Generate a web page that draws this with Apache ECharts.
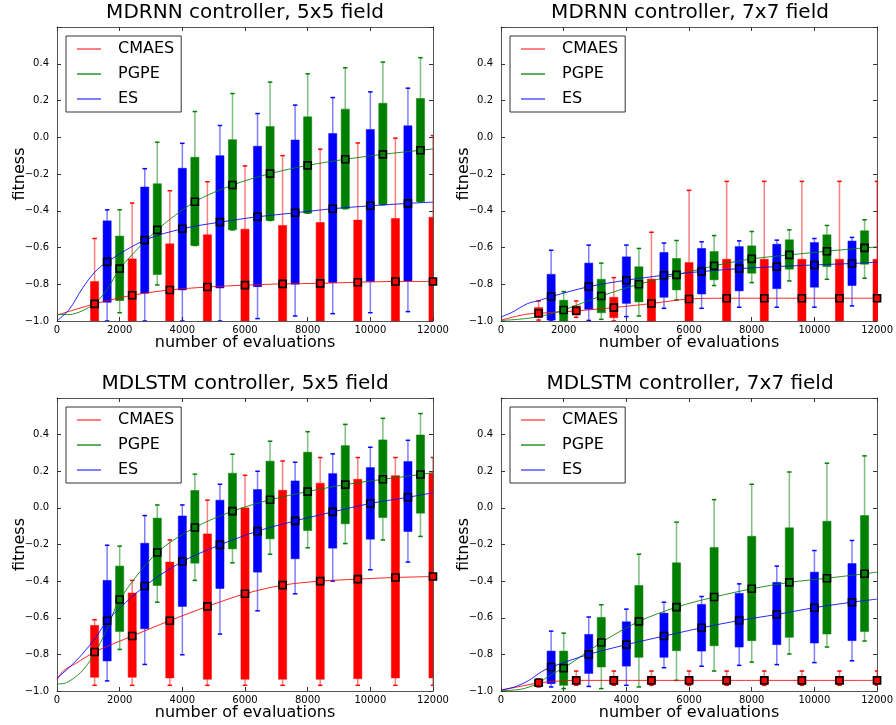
<!DOCTYPE html>
<html>
<head>
<meta charset="utf-8">
<script src="https://cdn.jsdelivr.net/npm/echarts@6/dist/echarts.min.js"></script>
<style>html,body{margin:0;padding:0;background:#fff}#c{width:896px;height:725px}</style>
</head>
<body>
<div id="c"></div>
<script>
// ---------- DATA ----------
const titles = ['MDRNN controller, 5x5 field', 'MDRNN controller, 7x7 field', 'MDLSTM controller, 5x5 field', 'MDLSTM controller, 7x7 field'];
const xTicks = [0, 2000, 4000, 6000, 8000, 10000, 12000];
const yTicks = [-1.0, -0.8, -0.6, -0.4, -0.2, 0.0, 0.2, 0.4];
const methods = ['CMAES', 'PGPE', 'ES'];
const xCMAES = [1200, 2400, 3600, 4800, 6000, 7200, 8400, 9600, 10800, 12000];
const xES = [1600, 2800, 4000, 5200, 6400, 7600, 8800, 10000, 11200];
const xPGPE = [2000, 3200, 4400, 5600, 6800, 8000, 9200, 10400, 11600];

// box stats: [min, q1, median, q3, max]
// Panel 1: MDRNN 5x5
const p1CMAES = [[-1,-1,-0.907,-0.785,-0.551],[-1,-1,-0.86,-0.662,-0.358],[-1,-1,-0.831,-0.58,-0.291],[-1,-1,-0.815,-0.531,-0.242],[-1,-1,-0.805,-0.5,-0.156],[-1,-1,-0.798,-0.48,-0.1],[-1,-1,-0.795,-0.464,-0.065],[-1,-1,-0.789,-0.451,-0.031],[-1,-1,-0.785,-0.442,-0.005],[-1,-1,-0.785,-0.435,0.009]];
const p1ES = [[-1,-0.898,-0.678,-0.455,-0.395],[-1,-0.849,-0.56,-0.271,-0.171],[-1,-0.831,-0.498,-0.169,-0.033],[-1,-0.82,-0.462,-0.1,0.064],[-0.987,-0.813,-0.433,-0.049,0.129],[-0.973,-0.8,-0.411,-0.015,0.175],[-0.96,-0.791,-0.389,0.02,0.216],[-0.955,-0.785,-0.373,0.042,0.247],[-0.949,-0.782,-0.36,0.062,0.267]];
const p1PGPE = [[-0.955,-0.889,-0.715,-0.538,-0.395],[-0.804,-0.747,-0.504,-0.253,-0.027],[-0.589,-0.589,-0.351,-0.109,0.14],[-0.504,-0.504,-0.26,-0.013,0.238],[-0.453,-0.453,-0.198,0.058,0.3],[-0.413,-0.413,-0.153,0.111,0.345],[-0.389,-0.389,-0.12,0.153,0.378],[-0.367,-0.367,-0.093,0.185,0.409],[-0.351,-0.351,-0.071,0.211,0.433]];
const p1CMAESHead = [[0,-0.968]], p1CMAESTail = [];
const p1PGPEHead = [[0,-0.965],[400,-0.965],[800,-0.945],[1200,-0.905],[1600,-0.83]], p1PGPETail = [[12000,-0.064]];
const p1ESHead = [[0,-1.0],[400,-0.935],[800,-0.825],[1200,-0.735]], p1ESTail = [[12000,-0.353]];

// Panel 2: MDRNN 7x7
const p2CMAES = [[-0.995,-0.98,-0.958,-0.927,-0.891],[-0.98,-0.962,-0.945,-0.918,-0.891],[-1,-0.982,-0.927,-0.871,-0.764],[-1,-1,-0.905,-0.772,-0.517],[-1,-1,-0.88,-0.682,-0.289],[-1,-1,-0.876,-0.664,-0.24],[-1,-1,-0.876,-0.664,-0.24],[-1,-1,-0.876,-0.664,-0.24],[-1,-1,-0.876,-0.664,-0.24],[-1,-1,-0.876,-0.664,-0.24]];
const p2ES = [[-1,-0.995,-0.867,-0.746,-0.615],[-0.997,-0.936,-0.813,-0.685,-0.587],[-0.976,-0.904,-0.778,-0.651,-0.587],[-0.931,-0.871,-0.751,-0.627,-0.576],[-0.931,-0.853,-0.731,-0.605,-0.569],[-0.925,-0.836,-0.715,-0.595,-0.564],[-0.925,-0.824,-0.704,-0.582,-0.56],[-0.925,-0.816,-0.695,-0.573,-0.551],[-0.918,-0.807,-0.687,-0.565,-0.545]];
const p2PGPE = [[-1,-1,-0.94,-0.887,-0.84],[-0.991,-0.955,-0.864,-0.773,-0.685],[-0.973,-0.896,-0.8,-0.705,-0.605],[-0.885,-0.831,-0.749,-0.66,-0.562],[-0.807,-0.776,-0.7,-0.622,-0.535],[-0.791,-0.74,-0.662,-0.591,-0.513],[-0.782,-0.718,-0.64,-0.558,-0.504],[-0.773,-0.704,-0.62,-0.531,-0.48],[-0.767,-0.691,-0.602,-0.509,-0.449]];
const p2CMAESHead = [[0,-0.995],[800,-0.963]], p2CMAESTail = [];
const p2PGPEHead = [[0,-0.997],[600,-0.99],[1200,-0.977],[1600,-0.96]], p2PGPETail = [[12000,-0.597]];
const p2ESHead = [[0,-0.978],[350,-0.953],[850,-0.905],[1250,-0.887]], p2ESTail = [[12000,-0.68]];

// Panel 3: MDLSTM 5x5
const p3CMAES = [[-0.969,-0.925,-0.787,-0.642,-0.611],[-0.969,-0.925,-0.7,-0.465,-0.396],[-0.969,-0.929,-0.616,-0.296,-0.175],[-0.969,-0.936,-0.538,-0.142,0.042],[-0.969,-0.936,-0.469,0.0,0.178],[-0.969,-0.936,-0.422,0.096,0.256],[-0.969,-0.936,-0.4,0.135,0.275],[-0.969,-0.933,-0.389,0.156,0.275],[-0.969,-0.929,-0.38,0.176,0.275],[-0.969,-0.929,-0.375,0.189,0.275]];
const p3ES = [[-0.945,-0.836,-0.616,-0.396,-0.204],[-0.855,-0.66,-0.427,-0.193,-0.042],[-0.802,-0.538,-0.293,-0.044,0.016],[-0.689,-0.44,-0.202,0.042,0.129],[-0.562,-0.351,-0.127,0.1,0.2],[-0.469,-0.278,-0.071,0.147,0.249],[-0.4,-0.22,-0.022,0.187,0.295],[-0.338,-0.171,0.024,0.22,0.331],[-0.296,-0.129,0.058,0.253,0.369]];
const p3PGPE = [[-0.773,-0.675,-0.5,-0.318,-0.209],[-0.515,-0.424,-0.244,-0.056,0.016],[-0.396,-0.302,-0.107,0.095,0.184],[-0.3,-0.224,-0.018,0.189,0.293],[-0.253,-0.169,0.044,0.255,0.364],[-0.218,-0.124,0.089,0.304,0.416],[-0.195,-0.087,0.127,0.34,0.456],[-0.175,-0.053,0.156,0.371,0.489],[-0.156,-0.029,0.182,0.398,0.515]];
const p3CMAESHead = [[0,-0.94],[200,-0.89],[600,-0.85]], p3CMAESTail = [];
const p3PGPEHead = [[0,-0.962],[300,-0.955],[750,-0.9],[1150,-0.81],[1600,-0.66]], p3PGPETail = [[12000,0.193]];
const p3ESHead = [[0,-0.93],[400,-0.87],[800,-0.8],[1250,-0.705]], p3ESTail = [[12000,0.082]];

// Panel 4: MDLSTM 7x7
const p4CMAES = [[-0.978,-0.97,-0.955,-0.94,-0.933],[-0.969,-0.962,-0.942,-0.922,-0.891],[-0.969,-0.962,-0.942,-0.922,-0.891],[-0.969,-0.962,-0.942,-0.922,-0.891],[-0.969,-0.962,-0.942,-0.922,-0.891],[-0.969,-0.962,-0.942,-0.922,-0.891],[-0.969,-0.962,-0.942,-0.922,-0.891],[-0.969,-0.962,-0.942,-0.922,-0.891],[-0.969,-0.962,-0.942,-0.922,-0.891],[-0.969,-0.962,-0.942,-0.922,-0.891]];
const p4ES = [[-0.978,-0.96,-0.869,-0.782,-0.673],[-0.975,-0.904,-0.8,-0.691,-0.596],[-0.969,-0.864,-0.747,-0.622,-0.553],[-0.873,-0.816,-0.7,-0.575,-0.515],[-0.865,-0.782,-0.655,-0.527,-0.484],[-0.86,-0.76,-0.615,-0.467,-0.415],[-0.856,-0.747,-0.582,-0.407,-0.318],[-0.845,-0.738,-0.545,-0.351,-0.233],[-0.835,-0.725,-0.515,-0.304,-0.178]];
const p4PGPE = [[-0.987,-0.969,-0.875,-0.782,-0.684],[-0.987,-0.869,-0.735,-0.598,-0.529],[-0.978,-0.816,-0.62,-0.424,-0.253],[-0.942,-0.78,-0.542,-0.3,-0.078],[-0.891,-0.753,-0.487,-0.216,0.045],[-0.842,-0.725,-0.442,-0.155,0.129],[-0.798,-0.707,-0.407,-0.109,0.196],[-0.76,-0.689,-0.384,-0.073,0.244],[-0.727,-0.675,-0.36,-0.042,0.284]];
const p4CMAESHead = [[0,-0.995],[850,-0.967]], p4CMAESTail = [];
const p4PGPEHead = [[0,-0.998],[650,-0.99],[1180,-0.958],[1600,-0.91]], p4PGPETail = [[12000,-0.351]];
const p4ESHead = [[0,-0.995],[450,-0.977],[870,-0.944],[1290,-0.895]], p4ESTail = [[12000,-0.498]];

// ---------- BUILD ----------
const FONT = 'DejaVu Sans';
const COLORS = {CMAES: '#ff0000', PGPE: '#008000', ES: '#0000ff'};
const LIGHT = {CMAES: 'rgba(255,0,0,0.5)', PGPE: 'rgba(0,128,0,0.5)', ES: 'rgba(0,0,255,0.5)'};
const LEGEND_COL = {CMAES: '#ff8080', PGPE: '#5fae5f', ES: '#8080ff'};
const BOX_W = 260;

const panels = [
  {box: {CMAES: p1CMAES, PGPE: p1PGPE, ES: p1ES}, head: {CMAES: p1CMAESHead, PGPE: p1PGPEHead, ES: p1ESHead}, tail: {CMAES: p1CMAESTail, PGPE: p1PGPETail, ES: p1ESTail}},
  {box: {CMAES: p2CMAES, PGPE: p2PGPE, ES: p2ES}, head: {CMAES: p2CMAESHead, PGPE: p2PGPEHead, ES: p2ESHead}, tail: {CMAES: p2CMAESTail, PGPE: p2PGPETail, ES: p2ESTail}},
  {box: {CMAES: p3CMAES, PGPE: p3PGPE, ES: p3ES}, head: {CMAES: p3CMAESHead, PGPE: p3PGPEHead, ES: p3ESHead}, tail: {CMAES: p3CMAESTail, PGPE: p3PGPETail, ES: p3ESTail}},
  {box: {CMAES: p4CMAES, PGPE: p4PGPE, ES: p4ES}, head: {CMAES: p4CMAESHead, PGPE: p4PGPEHead, ES: p4ESHead}, tail: {CMAES: p4CMAESTail, PGPE: p4PGPETail, ES: p4ESTail}}
];
const xPos = {CMAES: xCMAES, PGPE: xPGPE, ES: xES};

const layout = [
  {left: 57, top: 27, width: 376, height: 294},
  {left: 501, top: 27, width: 378, height: 294},
  {left: 57, top: 398, width: 376, height: 293},
  {left: 501, top: 398, width: 378, height: 293}
];

const fmtY = v => {
  if (v > 0.5) return '';
  if (Math.abs(v) < 1e-9) return '0.0';
  return v.toFixed(1).replace('-', '\u2212');
};
const fmtX = v => String(Math.round(v));

const grids = [], xAxes = [], yAxes = [], series = [], legends = [], titleArr = [];
layout.forEach((g, i) => {
  grids.push({left: g.left, top: g.top, width: g.width, height: g.height, containLabel: false});
  titleArr.push({text: titles[i], left: g.left + g.width / 2, top: g.top - 24, textAlign: 'center', padding: 0,
    textStyle: {fontFamily: FONT, fontSize: 20, fontWeight: 'normal', color: '#000'}});
  legends.push({
    left: g.left + 9, top: g.top + 9, orient: 'vertical', selectedMode: false,
    data: methods.map(m => ({name: m, itemStyle: {color: LEGEND_COL[m]}})),
    icon: 'rect', itemWidth: 24, itemHeight: 2, itemGap: 9,
    borderColor: '#333', borderWidth: 1, backgroundColor: '#fff', padding: [5, 7, 5, 11],
    textStyle: {fontFamily: FONT, fontSize: 16, color: '#000', lineHeight: 16, padding: [0, 0, 0, 12]}
  });
});
const axisCommonX = {type: 'value', min: xTicks[0], max: xTicks[xTicks.length - 1], interval: xTicks[1] - xTicks[0],
  splitLine: {show: false}, axisLine: {show: true, onZero: false, lineStyle: {color: '#555'}},
  axisTick: {show: true, inside: true, length: 4, lineStyle: {color: '#333'}}};
const axisCommonY = {type: 'value', min: yTicks[0], max: 0.6, interval: 0.2,
  splitLine: {show: false}, axisLine: {show: true, onZero: false, lineStyle: {color: '#555'}},
  axisTick: {show: true, inside: true, length: 4, lineStyle: {color: '#333'}}};
for (let i = 0; i < 4; i++) {
  xAxes.push(Object.assign({}, axisCommonX, {gridIndex: i, position: 'bottom',
    axisLabel: {fontFamily: FONT, fontSize: 10, color: '#000', margin: 4, formatter: fmtX},
    name: 'number of evaluations', nameLocation: 'middle', nameGap: 14, nameMoveOverlap: false,
    nameTextStyle: {fontFamily: FONT, fontSize: 16, color: '#000'}}));
  yAxes.push(Object.assign({}, axisCommonY, {gridIndex: i, position: 'left',
    axisLabel: {fontFamily: FONT, fontSize: 10, color: '#000', margin: 8, formatter: fmtY},
    name: 'fitness', nameLocation: 'middle', nameGap: 29, nameMoveOverlap: false,
    nameTextStyle: {fontFamily: FONT, fontSize: 16, color: '#000'}}));
}
for (let i = 0; i < 4; i++) {
  xAxes.push(Object.assign({}, axisCommonX, {gridIndex: i, position: 'top', axisLabel: {show: false}}));
  yAxes.push(Object.assign({}, axisCommonY, {gridIndex: i, position: 'right', axisLabel: {show: false}}));
}

panels.forEach((p, gi) => {
  methods.forEach(m => {
    const xs = xPos[m], st = p.box[m];
    series.push({
      type: 'custom', name: m, xAxisIndex: gi, yAxisIndex: gi, clip: true, z: 2, silent: true,
      data: xs.map((x, k) => [x].concat(st[k])),
      encode: {x: 0, y: [1, 2, 3, 4, 5]},
      renderItem: (params, api) => {
        const x = api.value(0);
        const pMin = api.coord([x, api.value(1)]);
        const pQ1 = api.coord([x, api.value(2)]);
        const pQ3 = api.coord([x, api.value(4)]);
        const pMax = api.coord([x, api.value(5)]);
        const w = api.size([BOX_W, 0])[0];
        const cw = w * 0.55;
        const cx = pQ1[0];
        const ch = [];
        ch.push({type: 'line', shape: {x1: cx, y1: pQ3[1], x2: cx, y2: pMax[1]}, style: {stroke: LIGHT[m], lineWidth: 1.5}});
        ch.push({type: 'line', shape: {x1: cx, y1: pQ1[1], x2: cx, y2: pMin[1]}, style: {stroke: LIGHT[m], lineWidth: 1.5}});
        ch.push({type: 'line', shape: {x1: cx - cw / 2, y1: pMax[1], x2: cx + cw / 2, y2: pMax[1]}, style: {stroke: COLORS[m], lineWidth: 1.5}});
        ch.push({type: 'line', shape: {x1: cx - cw / 2, y1: pMin[1], x2: cx + cw / 2, y2: pMin[1]}, style: {stroke: COLORS[m], lineWidth: 1.5}});
        ch.push({type: 'rect', shape: {x: cx - w / 2, y: pQ3[1], width: w, height: pQ1[1] - pQ3[1]},
          style: {fill: COLORS[m], stroke: LIGHT[m], lineWidth: 1}});
        return {type: 'group', children: ch};
      }
    });
  });
  methods.forEach(m => {
    const xs = xPos[m], st = p.box[m];
    const med = xs.map((x, k) => [x, st[k][2]]);
    series.push({
      type: 'line', name: m, xAxisIndex: gi, yAxisIndex: gi, z: 3, silent: true,
      data: p.head[m].concat(med).concat(p.tail[m]),
      smooth: 0.3, showSymbol: false, symbol: 'none',
      lineStyle: {color: COLORS[m], width: 1, opacity: 0.85}, itemStyle: {color: COLORS[m]}
    });
  });
  methods.forEach(m => {
    const xs = xPos[m], st = p.box[m];
    series.push({
      type: 'scatter', name: m, xAxisIndex: gi, yAxisIndex: gi, z: 4, silent: true, clip: false,
      data: xs.map((x, k) => [x, st[k][2]]),
      symbol: 'rect', symbolSize: 7,
      itemStyle: {color: COLORS[m], borderColor: '#000', borderWidth: 1.6, opacity: 1}
    });
  });
});

const chart = echarts.init(document.getElementById('c'), null, {renderer: 'canvas'});
chart.setOption({
  backgroundColor: '#fff', animation: false,
  title: titleArr, legend: legends, grid: grids, xAxis: xAxes, yAxis: yAxes, series: series
});
</script>
</body>
</html>
